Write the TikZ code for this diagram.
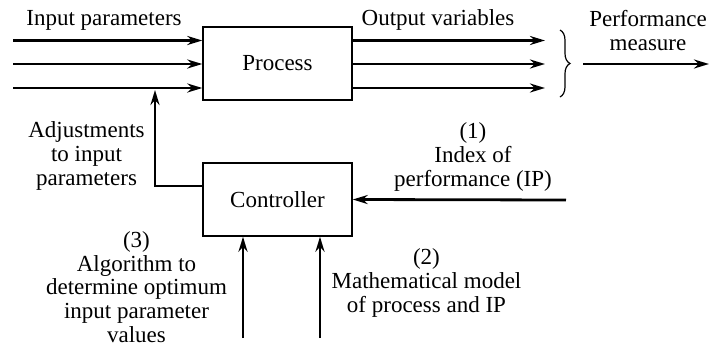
\documentclass[tikz,border=0pt]{standalone}
\usepackage{fontspec}
\setmainfont{Liberation Serif}
\usetikzlibrary{positioning}
\usetikzlibrary{arrows.meta}
\usetikzlibrary{decorations.pathreplacing}

\begin{document}
\begin{tikzpicture}[x=0.5pt,y=-0.5pt]

  \tikzstyle{block}=[rectangle, draw=black, line width=0.7pt, minimum width=74.5pt, minimum height=36.5pt, font=\rmfamily\fontsize{11.5}{12}\selectfont, node distance=68pt]
  \tikzstyle{connect}=[-{Stealth[length=7.5pt,width=4.5pt]}, line width=1.4pt]
  \tikzstyle{txt}=[align=center, font=\rmfamily\fontsize{11.5}{11.8}\selectfont, inner sep=0pt, anchor=base]

  \useasboundingbox (0,0) rectangle (709,349);

  \node[block] (process) at (277.5,63.5) {Process};
  \node[block] (controller) [below of = process] {Controller};

  \coordinate (in1) at (13,40.5);
  \coordinate (in2) at (13,64);
  \coordinate (in3) at (13,88);
  \coordinate (out1) at (545,40.5);
  \coordinate (out2) at (545,64);
  \coordinate (out3) at (545,88);
  \coordinate (brtop) at (560,30);
  \coordinate (brbot) at (560,97);
  \coordinate (perf0) at (583,64);
  \coordinate (perf1) at (709,64);
  \coordinate (adj) at (155,90);
  \coordinate (ip) at (566,200);
  \coordinate (alg) at (243,338);
  \coordinate (model) at (320,338);

  \path (in1) edge [connect] (in1 -| process.west)
        (in2) edge [connect] (in2 -| process.west)
        (in3) edge [connect] (in3 -| process.west)
        (out1 -| process.east) edge [connect] (out1)
        (out2 -| process.east) edge [connect] (out2)
        (out3 -| process.east) edge [connect] (out3)
        (perf0) edge [connect] (perf1)
        (ip) edge [connect] (controller.east)
        (alg) edge [connect] (alg |- controller.south)
        (model) edge [connect] (model |- controller.south);

  \draw[connect] ([yshift=6.75pt]controller.west) -| (adj);
  \draw[decorate, decoration={brace, amplitude=5pt}, line width=0.6pt] (brtop) -- (brbot);

  \node[txt] (intxt) at (104,25) {Input parameters};
  \node[txt] (outtxt) at (438,25) {Output variables};
  \node[txt] (perftxt) at (648,50) {Performance\\measure};
  \node[txt] (adjtxt) at (86.5,185) {Adjustments\\to input\\parameters};
  \node[txt] (iptxt) at (473,186) {(1)\\Index of\\performance (IP)};
  \node[txt] (algtxt) at (136.5,342) {(3)\\Algorithm to\\determine optimum\\input parameter\\values};
  \node[txt] (modeltxt) at (426.5,312) {(2)\\Mathematical model\\of process and IP};

\end{tikzpicture}
\end{document}
